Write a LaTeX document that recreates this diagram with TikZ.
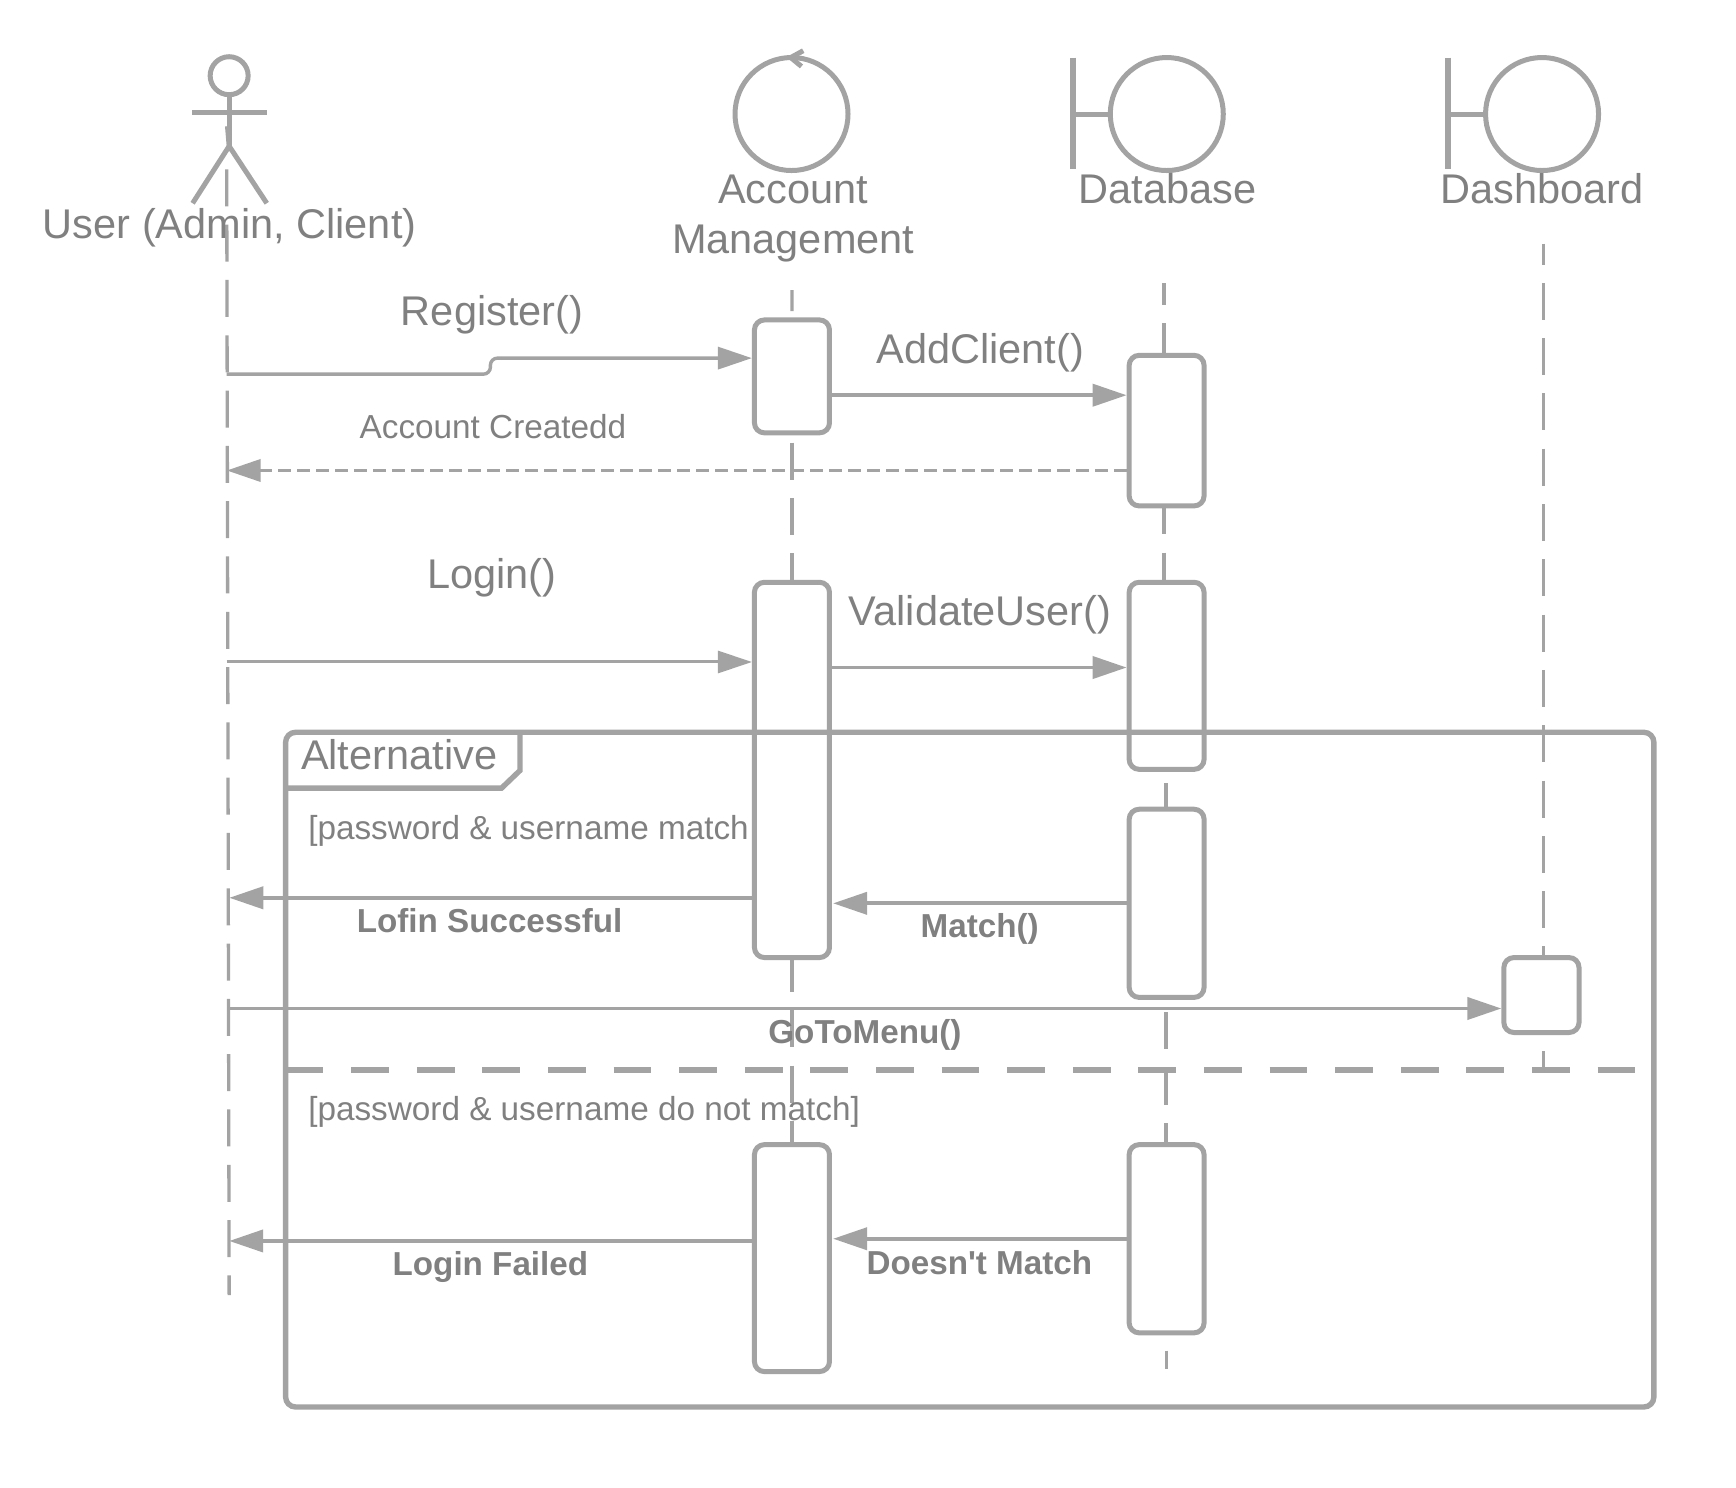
\documentclass[tikz,border=0pt]{standalone}
\usepackage{fontspec}
\setmainfont{Liberation Sans}
\newfontfamily\plainfont{Liberation Sans}
\usetikzlibrary{arrows.meta,fit,calc}
\definecolor{ln}{HTML}{A3A3A3}
\definecolor{tx}{HTML}{808080}
\newcommand{\bigtx}{\fontsize{41.5}{50}\selectfont}
\newcommand{\smalltx}{\fontsize{33.3}{40}\selectfont}
\newcommand{\boldtx}{\fontsize{33.2}{38}\selectfont\bfseries}
\tikzset{
  shapeline/.style={draw=ln,line width=5pt},
  lifeline/.style={draw=ln,line width=3.3pt,dash pattern=on 37pt off 18.3pt,dash phase=#1},
  lifeline/.default=0pt,
  actbox/.style={draw=ln,line width=5pt,fill=white,rounded corners=10pt,inner sep=0pt,fit={#1}},
  symcircle/.style={circle,draw=ln,line width=5pt,minimum size=113pt,inner sep=0pt},
  msg/.style={draw=ln,line width=3.9pt,-{Triangle[length=34pt,width=22pt,fill=ln]}},
  txbig/.style={text=tx,font=\bigtx,align=center,inner sep=0pt},
  txsmall/.style={text=tx,font=\smalltx,inner sep=0pt},
  txbold/.style={text=tx,font=\boldtx,inner sep=0pt},
}
\begin{document}
\begin{tikzpicture}[x=1.107pt,y=-1.107pt]
\useasboundingbox (0,0) rectangle (1568.2,1343.3);
% free ends of the lifelines
\coordinate (ustart) at (204.8,153);
\coordinate (uend) at (207,1170);
\coordinate (astart) at (715.4,262);
\coordinate (dstart) at (1051.6,255.6);
\coordinate (dmid) at (1053.3,0);
\coordinate (dend) at (1053.6,1237);
\coordinate (bstart) at (1394,220);
\coordinate (bend) at (1394,966);
% activation boxes
\node[actbox={(681.5,289)(749.3,391)}] (am1) {};
\node[actbox={(1020,321)(1087.7,457)}] (db1) {};
\node[actbox={(681.5,526)(749.3,865)}] (am2) {};
\node[actbox={(1020,526)(1087.7,695)}] (db2) {};
\node[actbox={(1020,731)(1087.7,901)}] (db3) {};
\node[actbox={(1358.5,865)(1426.4,932.7)}] (da1) {};
\node[actbox={(681.5,1034)(749.3,1239)}] (am3) {};
\node[actbox={(1020,1034)(1087.7,1204)}] (db4) {};
% lifelines, piece by piece between the boxes
\draw[lifeline] (ustart) -- (uend);
\draw[lifeline=16pt] (astart) -- (am1.north);
\draw[lifeline=48pt] (am1.south) -- (am2.north);
\draw[lifeline=5pt] (am2.south) -- (am3.north);
\draw[lifeline=15pt] (dstart) -- (db1.north -| dstart);
\draw[lifeline=11pt] (db1.south -| dstart) -- (db2.north -| dstart);
\draw[lifeline=44pt] (db2.south -| dmid) -- (db3.north -| dmid);
\draw[lifeline=43pt] (db3.south -| dmid) -- (db4.north -| dmid);
\draw[lifeline=40pt] (db4.south -| dend) -- (dend);
\draw[lifeline=16pt] (bstart) -- (da1.north -| bstart);
\draw[lifeline=39pt] (da1.south -| bend) -- (bend);
% actor
\node[circle,draw=ln,line width=5pt,minimum size=38pt,inner sep=0pt] (head) at (207,68.4) {};
\coordinate (hip) at (207,132);
\coordinate (arml) at (173.4,101.8);
\coordinate (armr) at (241,101.8);
\coordinate (legl) at (174,183.6);
\coordinate (legr) at (241,183.6);
\draw[shapeline] (head.south) -- (hip);
\draw[shapeline] (arml) -- (armr);
\draw[shapeline] (legl) -- (hip) -- (legr);
\draw[shapeline] (205.5,114) -- (hip);
% control
\node[symcircle] (ctrl) at (715,103) {};
\coordinate (cha) at (725.6,45.8);
\coordinate (chb) at (714.3,52);
\coordinate (chc) at (724,60);
\draw[shapeline] (cha) -- (chb) -- (chc);
% boundaries
\node[symcircle] (dbc) at (1054,103) {};
\coordinate (dbbt) at (969,52);
\coordinate (dbbb) at (969,153);
\coordinate (dbbm) at (969,103);
\draw[shapeline,line width=5.8pt] (dbbt) -- (dbbb);
\draw[shapeline] (dbbm) -- (dbc.west);
\node[symcircle] (dac) at (1393,103) {};
\coordinate (dabt) at (1308,52);
\coordinate (dabb) at (1308,153);
\coordinate (dabm) at (1308,103);
\draw[shapeline,line width=5.8pt] (dabt) -- (dabb);
\draw[shapeline] (dabm) -- (dac.west);
% frame
\node[draw=ln,line width=5.4pt,rounded corners=10pt,inner sep=0pt,fit={(258,661.5)(1494,1271)}] (frame) {};
\coordinate (taba) at (258,712);
\coordinate (tabb) at (453,712);
\coordinate (tabc) at (469.7,696);
\coordinate (tabd) at (469.7,661.5);
\draw[draw=ln,line width=5.4pt] (taba) -- (tabb) -- (tabc) -- (tabd);
\coordinate (divl) at (258,967);
\coordinate (divr) at (1478,967);
\draw[draw=ln,line width=6pt,dash pattern=on 37.7pt off 27.9pt] (divl) -- (divr);
% messages
\draw[msg,line width=3.4pt,rounded corners=7pt] (ustart |- 0,338) -- (443,338) -- (443,323.5) -- (am1.west |- 0,323.5);
\draw[msg] (am1.east |- 0,357) -- (db1.west |- 0,357);
\draw[msg,dash pattern=on 12.6pt off 6.4pt] (db1.west |- 0,425) -- (ustart |- 0,425);
\draw[msg,line width=3pt] (ustart |- 0,598) -- (am2.west |- 0,598);
\draw[msg] (am2.east |- 0,603) -- (db2.west |- 0,603);
\draw[msg] (am2.west |- 0,811) -- ($(ustart |- 0,811)+(2.3,0)$);
\draw[msg] (db3.west |- 0,816) -- ($(am2.east |- 0,816)+(1,0)$);
\draw[msg] (uend |- 0,911) -- (da1.west |- 0,911);
\draw[msg] (am3.west |- 0,1121) -- (uend |- 0,1121);
\draw[msg] (db4.west |- 0,1119) -- ($(am3.east |- 0,1119)+(1,0)$);
% labels
\node[txbig] (lu) at (207.5,206) {User (Admin, Client)};
\node[txbig] (la) at (716.5,197.5) {Account\\Management};
\node[txbig] (ld) at (1054.5,170) {Database};
\node[txbig] (lb) at (1393.3,170) {Dashboard};
\node[txbig] (m1) at (444.5,284) {Register()};
\node[txbig] (m2) at (885.5,319) {AddClient()};
\node[txsmall] (m3) at (445.3,385) {Account Createdd};
\node[txbig] (m4) at (444.5,522) {Login()};
\node[txbig] (m5) at (885.3,555) {ValidateUser()};
\node[txbig] (alt) at (360.5,682) {Alternative};
\node[txsmall,anchor=west] (g1) at (278.3,751) {[password \& username match};
\node[txbold] (m6) at (442.3,832) {Lofin Successful};
\node[txbold] (m7) at (885,839) {Match()};
\node[txbold] (m8) at (781.3,934.5) {GoToMenu()};
\node[txsmall,anchor=west] (g2) at (278.3,1004) {[password \& username do not match]};
\node[txbold] (m9) at (443,1144.5) {Login Failed};
\node[txbold] (m10) at (884.7,1141) {\plainfont\bfseries Doesn't Match};
\end{tikzpicture}
\end{document}
